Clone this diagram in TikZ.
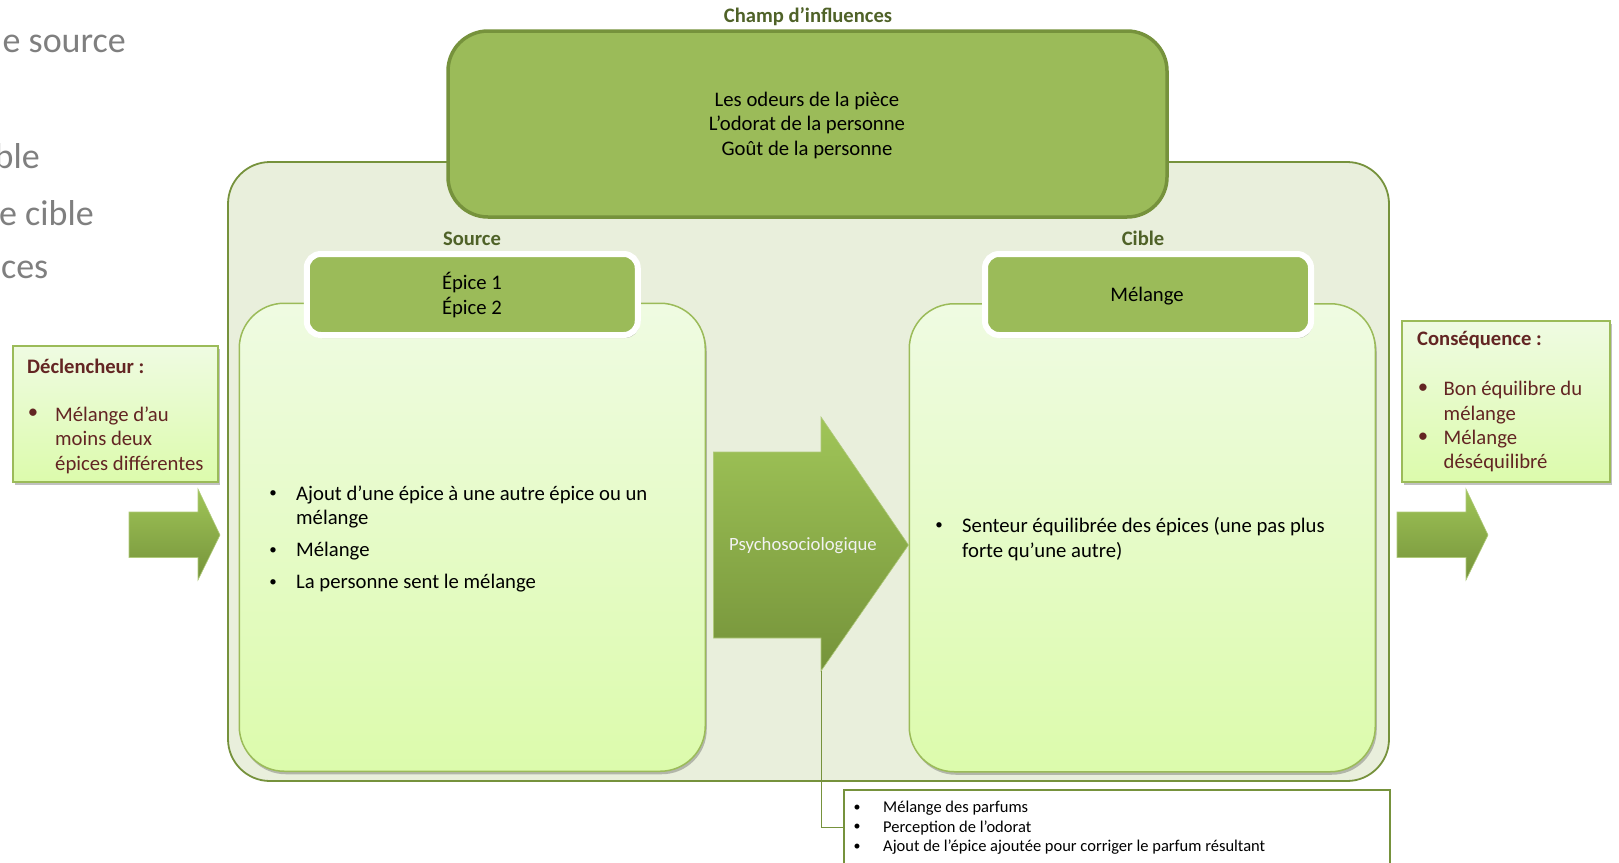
\documentclass[tikz,border=0pt]{standalone}
\usepackage{fontspec}
\setmainfont{Carlito}
\usetikzlibrary{shadows}
\definecolor{olive}{HTML}{9BBB59}
\definecolor{oliveD}{HTML}{76923C}
\definecolor{oliveT}{HTML}{4F6228}
\definecolor{panelbg}{HTML}{E9EFDC}
\definecolor{dred}{HTML}{632523}
\definecolor{greytxt}{HTML}{7F7F7F}
\definecolor{lgtop}{HTML}{EFFBE2}
\definecolor{lgbot}{HTML}{DCFBAC}
\definecolor{arrtop}{HTML}{A0C558}
\definecolor{arrbot}{HTML}{75933A}
\begin{document}
\begin{tikzpicture}[x=1pt,y=-1pt,
  f20/.style={inner sep=0pt, font=\fontsize{20.7}{24.5}\selectfont},
  f20b/.style={inner sep=0pt, font=\bfseries\fontsize{20.6}{24.5}\selectfont},
  f15/.style={inner sep=0pt, font=\fontsize{16.5}{19.6}\selectfont},
  bul/.style={inner sep=0pt, font=\fontsize{15}{19.6}\selectfont},
  shadowed/.style={drop shadow={shadow xshift=1.5pt, shadow yshift=-3pt, opacity=0.35, fill=black!70}},
  panelbox/.style={draw=oliveD, line width=1.8pt, fill=panelbg, rounded corners=42pt},
  champbox/.style={draw=oliveD, line width=3.5pt, fill=olive, rounded corners=40pt},
  bigbox/.style={draw=olive, line width=1.5pt, top color=lgtop, bottom color=lgbot, rounded corners=45pt, shadowed},
  headbox/.style={draw=white, line width=6pt, fill=olive, rounded corners=14pt, shadowed},
  sidebox/.style={draw=olive, line width=2pt, top color=lgtop, bottom color=lgbot, shadowed},
  arrowshape/.style={top color=arrtop, bottom color=arrbot, draw=olive!80!white, line width=0.6pt},
  label/.style={f20b, text=oliveT},
  grey/.style={inner sep=0pt, anchor=east, text=greytxt, font=\fontsize{36}{44}\selectfont}
]
\useasboundingbox (0,0) rectangle (1619,862);

% cut-off slide text on the left
\node[grey] (g1) at (126,44) {e source};
\node[grey] (g2) at (40,156) {ble};
\node[grey] (g3) at (94,213) {e cible};
\node[grey] (g4) at (48.5,269.5) {ces};

% background panel
\node[panelbox, minimum width=1161pt, minimum height=619pt] (panel) at (808.5,471.5) {};

% champ d'influences
\node[champbox, minimum width=719pt, minimum height=186pt] (champ) at (807.5,124) {};
\node[f20, align=center] (champtxt) at (807,125) {Les odeurs de la pièce\\L’odorat de la personne\\Goût de la personne};
\node[label] (champlbl) at (808,16.5) {Champ d’influences};

% big boxes
\node[bigbox, minimum width=466pt, minimum height=468pt] (srcbox) at (472.25,537.25) {};
\node[bigbox, minimum width=466pt, minimum height=468pt] (cibbox) at (1142.25,537.75) {};

% labels
\node[label] (srclbl) at (472,238.5) {Source};
\node[label] (ciblbl) at (1143,238.5) {Cible};

% header boxes
\node[headbox, minimum width=331pt, minimum height=81pt] (srchead) at (472.25,294.5) {};
\node[f20, align=center] (srcheadtxt) at (472,295) {Épice 1\\Épice 2};
\node[headbox, minimum width=326pt, minimum height=81pt] (cibhead) at (1148,294.5) {};
\node[f20] (cibheadtxt) at (1147,296) {Mélange};

% source list
\node[bul] (sb1) at (273,494.5) {•};
\node[f20, anchor=west, align=left] (st1) at (296,507) {Ajout d’une épice à une autre épice ou un\\mélange};
\node[bul] (sb2) at (273,551) {•};
\node[f20, anchor=west] (st2) at (296,551) {Mélange};
\node[bul] (sb3) at (273,583) {•};
\node[f20, anchor=west] (st3) at (296,583) {La personne sent le mélange};

% cible list
\node[bul] (cb1) at (939,526.5) {•};
\node[f20, anchor=west, align=left] (ct1) at (962,539) {Senteur équilibrée des épices (une pas plus\\forte qu’une autre)};

% big arrow
\path[arrowshape] (713.5,452) -- (821,452) -- (821,417) -- (908.5,545) -- (821,671) -- (821,638) -- (713.5,638) -- cycle;
\coordinate (ptip) at (821.5,671);
\node[inner sep=0pt, text=white!95!black, font=\fontsize{18.7}{22}\selectfont] (psy) at (803,546) {Psychosociologique};

% bottom box
\node[draw=oliveD, line width=1.5pt, fill=white, minimum width=546pt, minimum height=75pt, anchor=north west, inner sep=0pt] (botbox) at (843,789) {};
\draw[oliveD, line width=1.5pt] (ptip) |- (botbox.west);
\node[bul, align=center, font=\fontsize{14}{19.6}\selectfont] (bb) at (857,827.5) {•\\•\\•};
\node[f15, anchor=west, align=left] (bt) at (883,828) {Mélange des parfums\\Perception de l’odorat\\Ajout de l’épice ajoutée pour corriger le parfum résultant};

% déclencheur
\node[sidebox, minimum width=205pt, minimum height=136pt] (decl) at (115.5,414) {};
\node[f20b, anchor=west, text=dred] (decltitle) at (27,366) {Déclencheur :};
\node[f20, text=dred] (declb) at (33,414) {•};
\node[f20, anchor=west, align=left, text=dred] (decltxt) at (55,440) {Mélange d’au\\moins deux\\épices différentes};
\path[arrowshape] (129,512) -- (198,512) -- (198,489) -- (220,535) -- (198,580) -- (198,557.5) -- (129,557.5) -- cycle;

% conséquence
\node[sidebox, minimum width=208pt, minimum height=161pt] (cons) at (1506,401.5) {};
\node[f20b, anchor=west, text=dred] (constitle) at (1417,340.5) {Conséquence :};
\node[f20, text=dred] (consb1) at (1423,389) {•};
\node[f20, anchor=west, align=left, text=dred] (const1) at (1443.5,402.5) {Bon équilibre du\\mélange};
\node[f20, text=dred] (consb2) at (1423,438) {•};
\node[f20, anchor=west, align=left, text=dred] (const2) at (1443.5,451) {Mélange\\déséquilibré};
\path[arrowshape] (1397,512) -- (1466,512) -- (1466,489) -- (1488,535) -- (1466,580) -- (1466,557.5) -- (1397,557.5) -- cycle;
\end{tikzpicture}
\end{document}
